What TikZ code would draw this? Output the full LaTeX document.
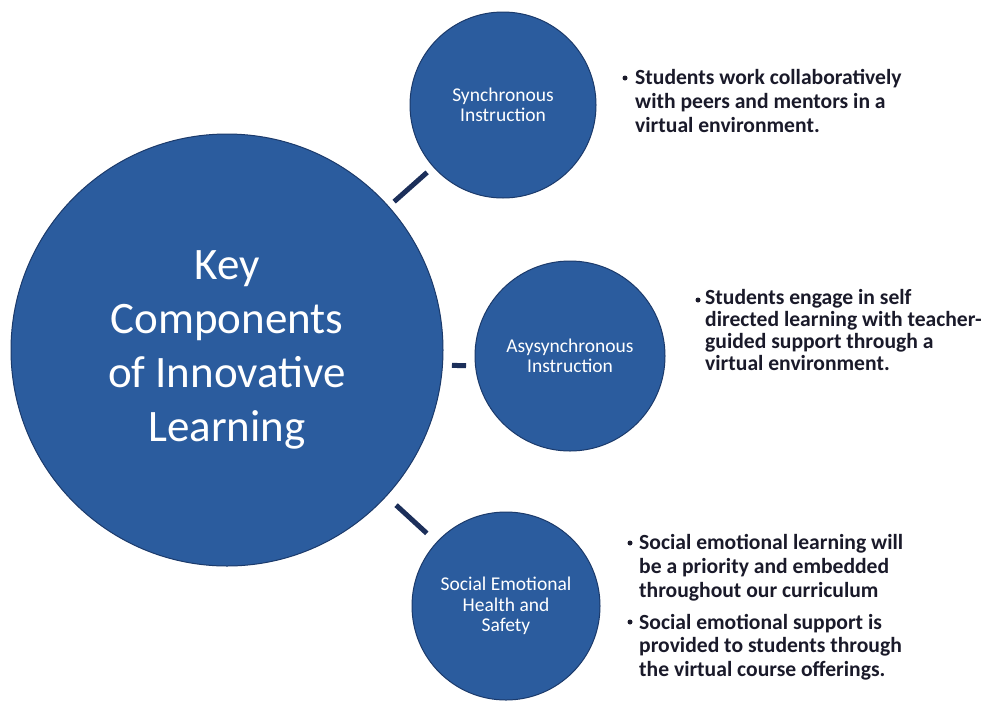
\documentclass[tikz,border=0pt]{standalone}
\usepackage{fontspec}
\setmainfont{Carlito}
\definecolor{circfill}{HTML}{2B5C9E}
\definecolor{circedge}{HTML}{1B3A6B}
\definecolor{conn}{HTML}{1C2F5A}
\definecolor{txt}{HTML}{1A1A2A}
\begin{document}
\begin{tikzpicture}[x=1pt,y=-1pt,
  bigcirc/.style={circle, fill=circfill, draw=circedge, line width=1pt, minimum size=432pt, inner sep=0pt, text=white, align=center, font=\fontsize{45}{54}\selectfont},
  smallcirc/.style={circle, fill=circfill, draw=circedge, line width=1pt, inner sep=0pt, text=white, align=center, font=\fontsize{19.5}{20.5}\selectfont},
  link/.style={draw=conn, line width=5pt},
  dotmark/.style={circle, fill=txt, inner sep=0pt, minimum size=5pt},
  btext/.style={anchor=base west, align=left, inner sep=0pt, text=txt, font=\bfseries\fontsize{21.6}{24}\selectfont}
]
\useasboundingbox[fill=white] (0,0) rectangle (990,702);
\node[bigcirc] (big) at (227,350) {Key\\Components\\of Innovative\\Learning};
\node[smallcirc, minimum size=186pt] (sync) at (503,105) {Synchronous\\Instruction};
\node[smallcirc, minimum size=190pt] (async) at (570,356) {Asysynchronous\\Instruction};
\node[smallcirc, minimum size=188pt] (sel) at (506,606) {Social Emotional\\Health and\\Safety};
\draw[link, shorten <=7pt, shorten >=8pt] (big) -- (sync);
\draw[link, shorten <=9pt, shorten >=9pt] (big.-4) -- (async.186);
\draw[link, shorten <=13pt, shorten >=13pt] (big) -- (sel);
% bullet texts (base anchor = baseline of last line)
\node[dotmark] (d1) at (625,78) {};
\node[btext] (t1) at (635,132) {Students work collaboratively\\with peers and mentors in a\\virtual environment.};
\node[dotmark] (d2) at (698,300) {};
\node[btext, font=\bfseries\fontsize{21.6}{21.8}\selectfont] (t2) at (705,370) {Students engage in self\\directed learning with teacher-\\guided support through a\\virtual environment.};
\node[dotmark] (d3) at (630,543) {};
\node[btext] (t3) at (639,597) {Social emotional learning will\\be a priority and embedded\\throughout our curriculum};
\node[dotmark] (d4) at (630,622) {};
\node[btext, font=\bfseries\fontsize{21.6}{23.5}\selectfont] (t4) at (639,676) {Social emotional support is\\provided to students through\\the virtual course offerings.};
\end{tikzpicture}
\end{document}
